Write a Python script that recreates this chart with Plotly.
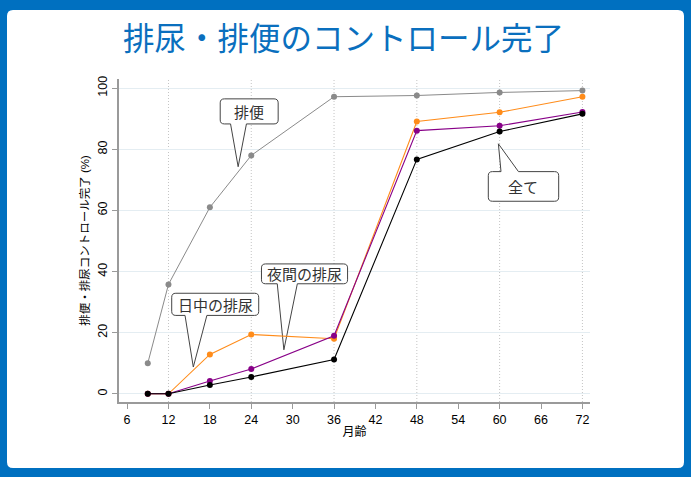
import plotly.graph_objects as go

months = [9, 12, 18, 24, 36, 48, 60, 72]
bowel = [10, 35.8, 61, 78, 97.2, 97.6, 98.6, 99.2]          # 排便
daytime = [0, 0, 12.9, 19.4, 18.0, 89.1, 92.1, 97.2]       # 日中の排尿
night = [0, 0, 4.2, 8.1, 19.0, 86.1, 87.7, 92.2]           # 夜間の排尿
all_ = [0, 0, 2.9, 5.5, 11.2, 76.7, 85.8, 91.6]            # 全て

x_ticks = [6, 12, 18, 24, 30, 36, 42, 48, 54, 60, 66, 72]
y_ticks = [0, 20, 40, 60, 80, 100]

W, H = 691, 477
ML, MR, MT, MB = 119, 101, 79, 75
PW, PH = W - ML - MR, H - MT - MB

def px(x):
    return (x - ML) / PW

def py(y):
    return (H - MB - y) / PH

fig = go.Figure()
series = [
    (bowel, "#8a8a8a", "排便", 1.0),
    (daytime, "#ff8c1a", "日中の排尿", 1.1),
    (night, "#880088", "夜間の排尿", 1.1),
    (all_, "#000000", "全て", 1.1),
]
for ys, col, name, lw in series:
    fig.add_trace(go.Scatter(x=months, y=ys, mode="lines+markers", name=name,
                             line=dict(color=col, width=lw),
                             marker=dict(color=col, size=6)))

shapes = []
# white rounded inner panel (background frame)
x0, x1, y0, y1, r = 7, 684, 10, 468, 6
shapes.append(dict(
    type="path", xref="paper", yref="paper", layer="below",
    path=(f"M {px(x0+r)},{py(y0)} L {px(x1-r)},{py(y0)} Q {px(x1)},{py(y0)} {px(x1)},{py(y0+r)} "
          f"L {px(x1)},{py(y1-r)} Q {px(x1)},{py(y1)} {px(x1-r)},{py(y1)} "
          f"L {px(x0+r)},{py(y1)} Q {px(x0)},{py(y1)} {px(x0)},{py(y1-r)} "
          f"L {px(x0)},{py(y0+r)} Q {px(x0)},{py(y0)} {px(x0+r)},{py(y0)} Z"),
    fillcolor="white", line=dict(width=0)))

RX, RY = 0.6, 1.3

def bubble(bx0, bx1, by0, by1, ta, tb, tip, side):
    tx, ty = tip
    if side == "bottom":
        p = (f"M {bx0+RX},{by1} L {bx1-RX},{by1} Q {bx1},{by1} {bx1},{by1-RY} "
             f"L {bx1},{by0+RY} Q {bx1},{by0} {bx1-RX},{by0} "
             f"L {tb},{by0} L {tx},{ty} L {ta},{by0} "
             f"L {bx0+RX},{by0} Q {bx0},{by0} {bx0},{by0+RY} "
             f"L {bx0},{by1-RY} Q {bx0},{by1} {bx0+RX},{by1} Z")
    else:
        p = (f"M {bx0+RX},{by1} L {ta},{by1} L {tx},{ty} L {tb},{by1} "
             f"L {bx1-RX},{by1} Q {bx1},{by1} {bx1},{by1-RY} "
             f"L {bx1},{by0+RY} Q {bx1},{by0} {bx1-RX},{by0} "
             f"L {bx0+RX},{by0} Q {bx0},{by0} {bx0},{by0+RY} "
             f"L {bx0},{by1-RY} Q {bx0},{by1} {bx0+RX},{by1} Z")
    return dict(type="path", xref="x", yref="y", layer="between", path=p,
                fillcolor="white", line=dict(color="#444444", width=1))

callouts = [
    ("排便", 19.5, 27.9, 88.3, 96.5, 21.0, 23.3, (22.1, 74.3), "bottom"),
    ("日中の排尿", 12.47, 25.08, 25.65, 32.9, 14.4, 17.57, (15.6, 8.76), "bottom"),
    ("夜間の排尿", 25.48, 37.96, 36.0, 42.5, 27.77, 30.68, (28.73, 14.4), "bottom"),
    ("全て", 58.36, 68.56, 63.0, 72.7, 60.2, 62.73, (59.82, 81.8), "top"),
]
annotations = []
for text, bx0, bx1, by0, by1, ta, tb, tip, side in callouts:
    shapes.append(bubble(bx0, bx1, by0, by1, ta, tb, tip, side))
    annotations.append(dict(x=(bx0 + bx1) / 2, y=(by0 + by1) / 2, xref="x", yref="y",
                            text=text, showarrow=False, xanchor="center", yanchor="middle",
                            font=dict(family="Noto Sans CJK JP", size=15, color="#333333")))

annotations.append(dict(x=px(343.5), y=py(36), xref="paper", yref="paper",
                        text="排尿・排便のコントロール完了", showarrow=False,
                        xanchor="center", yanchor="middle",
                        font=dict(family="Noto Sans CJK JP", size=31.5, color="#0a6fbe")))

fig.update_layout(
    width=W, height=H,
    margin=dict(l=ML, r=MR, t=MT, b=MB),
    paper_bgcolor="#0070c0",
    plot_bgcolor="white",
    showlegend=False,
    shapes=shapes,
    annotations=annotations,
    font=dict(family="Liberation Sans, Noto Sans CJK JP", size=12, color="black"),
)
fig.update_xaxes(
    range=[4.83, 73.1], tickvals=x_ticks, ticktext=[str(v) for v in x_ticks],
    showgrid=False, zeroline=False, showline=True, linecolor="#9a9a9a", linewidth=1.5,
    ticks="outside", ticklen=5, tickcolor="#9a9a9a", tickfont=dict(size=12.5),
    title=dict(text="月齢", font=dict(size=12), standoff=2),
)
fig.update_yaxes(
    range=[-2.68, 103], tickvals=y_ticks, tickangle=-90,
    showgrid=True, gridcolor="#e4edf2", gridwidth=1, zeroline=False,
    showline=True, linecolor="#9a9a9a", linewidth=1.5,
    ticks="outside", ticklen=5, tickcolor="#9a9a9a", tickfont=dict(size=12.5),
    title=dict(text="排便・排尿コントロール完了 (%)", font=dict(size=11.5), standoff=4),
)
# dotted vertical grid lines at every 12 months
for xv in [12, 24, 36, 48, 60, 72]:
    fig.add_shape(type="line", xref="x", yref="paper", x0=xv, x1=xv, y0=0, y1=1,
                  layer="below", line=dict(color="#c4c4c4", width=1, dash="1px,2px"))

fig.write_html("out.html", config={"displayModeBar": False},
               post_script="document.body.style.margin='0';document.body.style.overflow='hidden';")
